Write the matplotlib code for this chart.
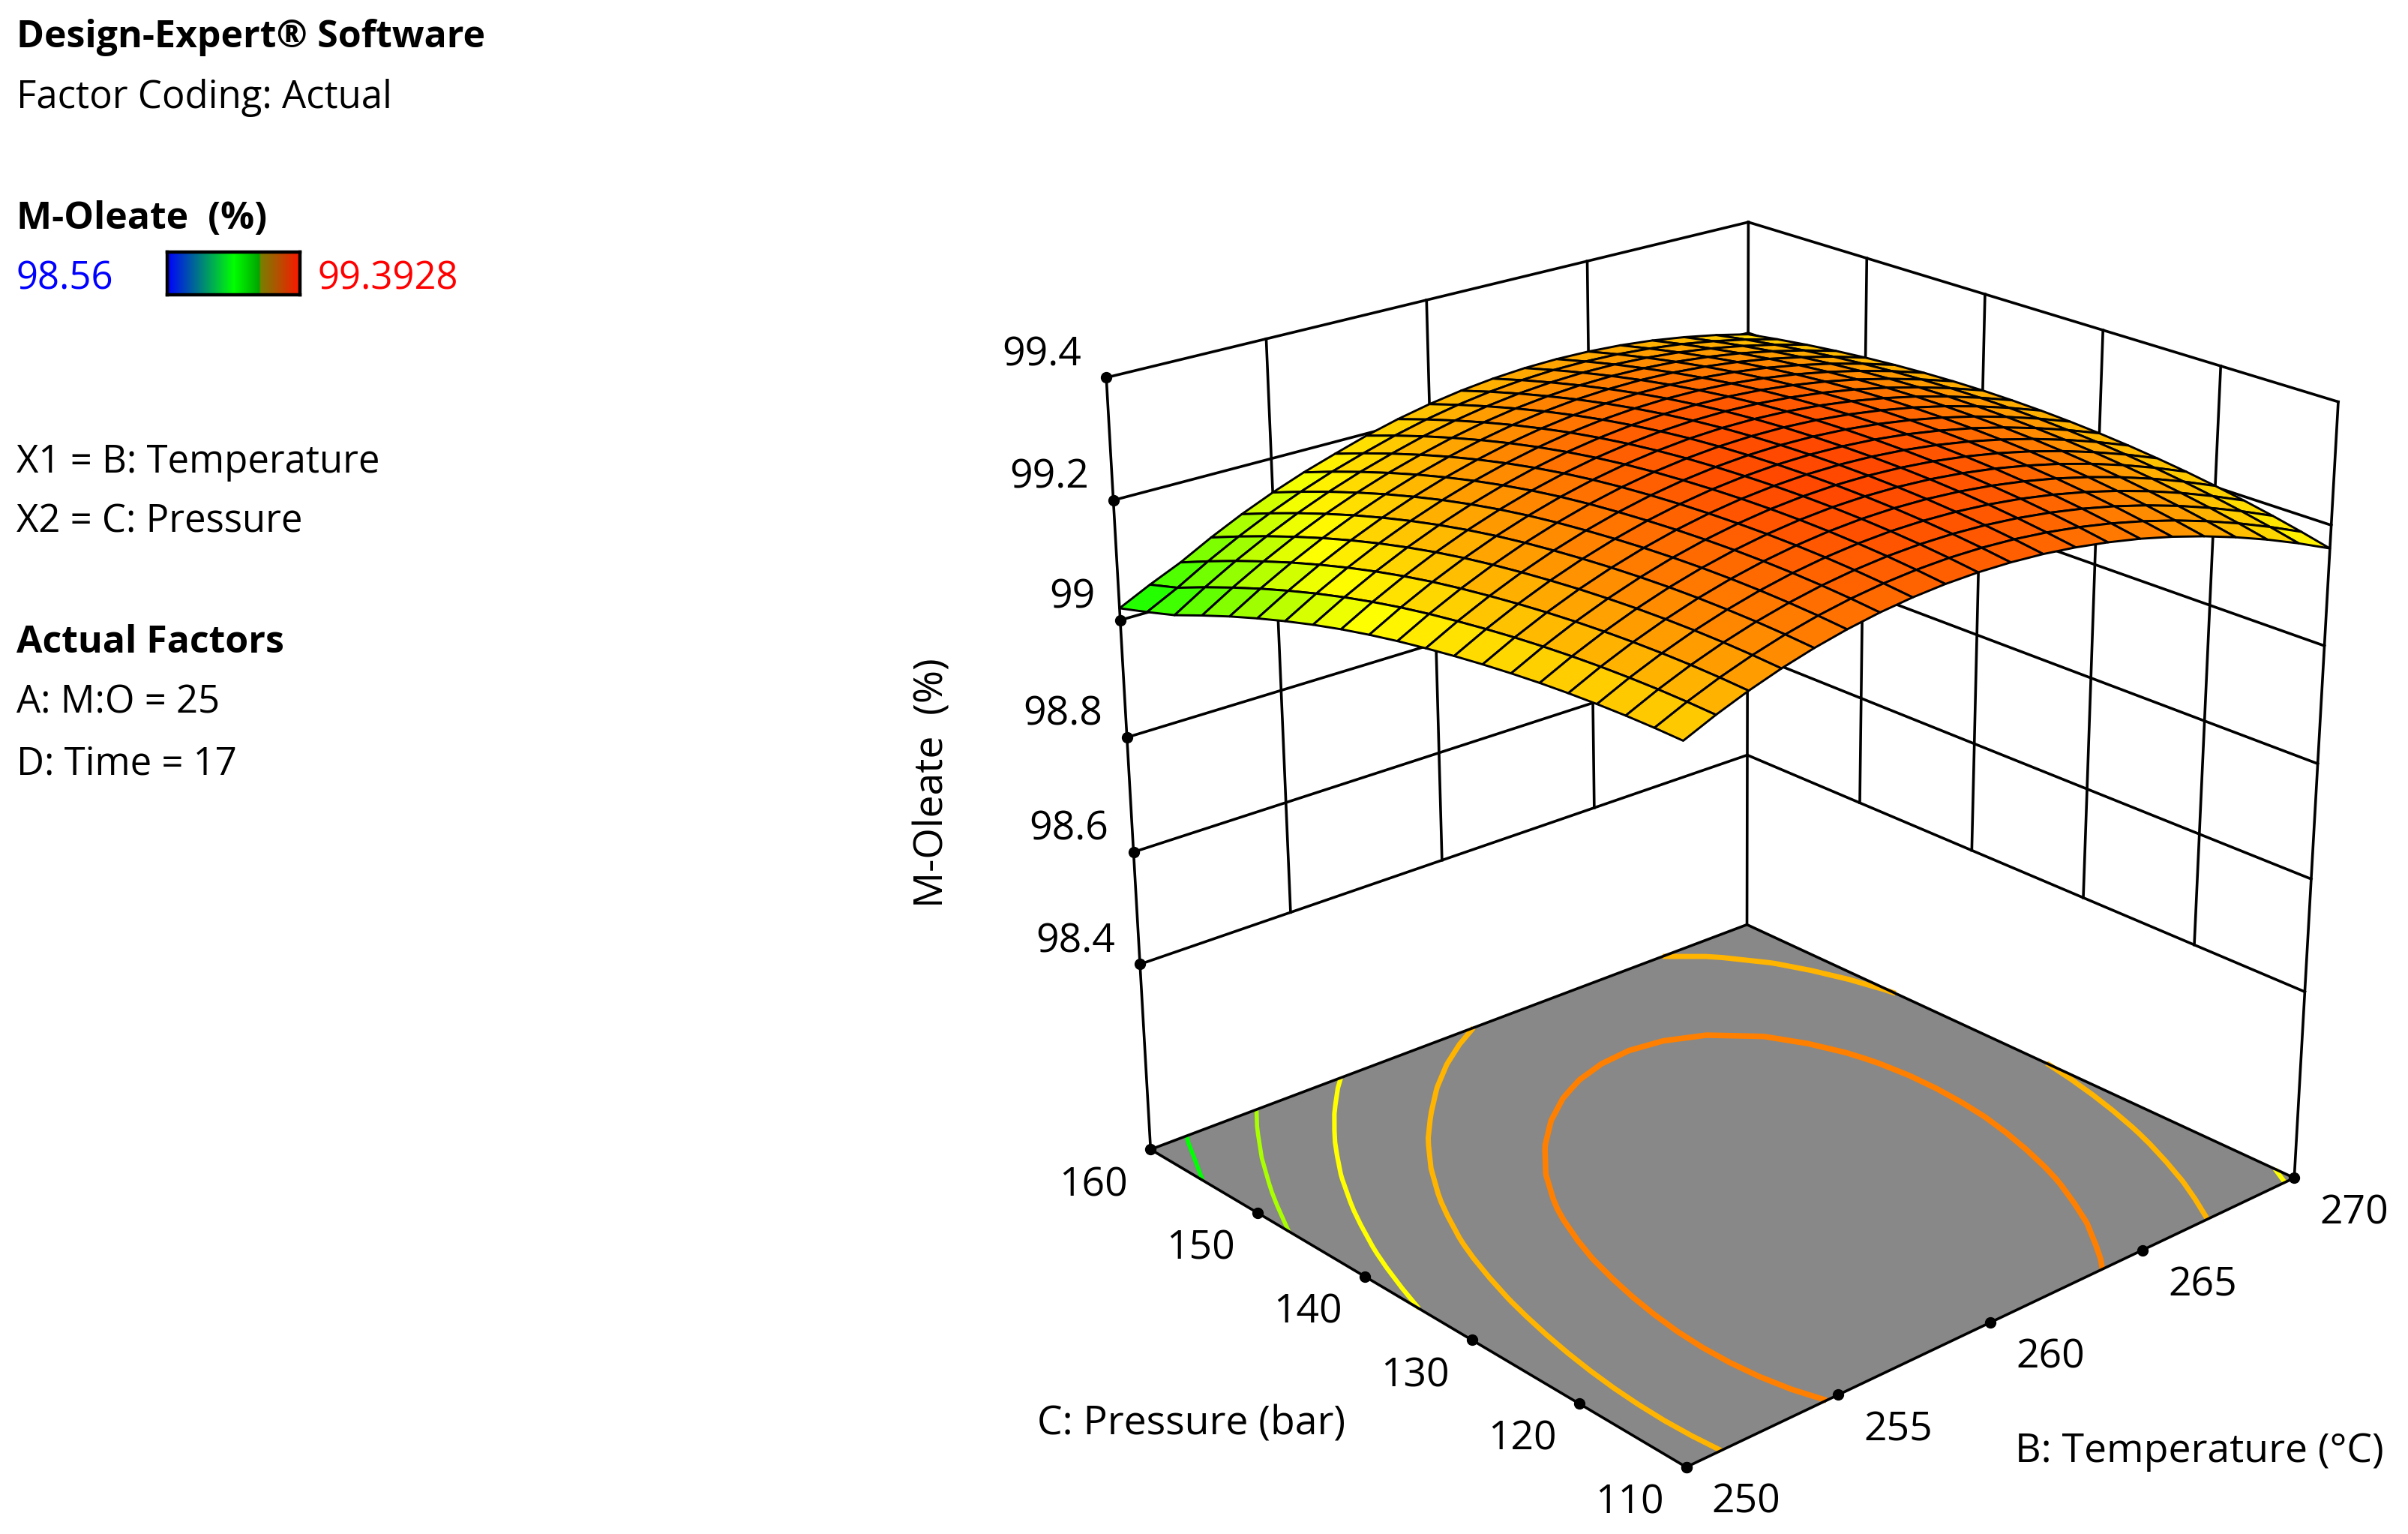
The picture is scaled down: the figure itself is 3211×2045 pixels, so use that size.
import numpy as np
import matplotlib
matplotlib.use("Agg")
import matplotlib.pyplot as plt
from matplotlib.colors import LinearSegmentedColormap, Normalize
from mpl_toolkits.mplot3d import proj3d

# surface height, in 1/10000 above 99 %
# rows: pressure 110..160 bar, columns: temperature 250..270 C
temperature = np.linspace(250, 270, 21)
pressure = np.linspace(110, 160, 21)
z_rows = [
    [2053, 2272, 2466, 2635, 2778, 2896, 2989, 3056, 3098, 3114, 3105, 3071, 3011, 2925, 2815, 2679, 2517, 2330, 2118, 1881, 1618],
    [2062, 2286, 2486, 2660, 2809, 2932, 3030, 3102, 3149, 3171, 3167, 3138, 3083, 3003, 2898, 2767, 2611, 2430, 2223, 1990, 1733],
    [2061, 2291, 2496, 2675, 2829, 2957, 3061, 3138, 3191, 3218, 3219, 3195, 3146, 3071, 2971, 2846, 2695, 2519, 2317, 2090, 1838],
    [2050, 2285, 2495, 2680, 2839, 2973, 3082, 3165, 3222, 3255, 3261, 3243, 3199, 3130, 3035, 2915, 2769, 2598, 2402, 2180, 1933],
    [2029, 2270, 2485, 2675, 2840, 2979, 3093, 3181, 3244, 3282, 3294, 3281, 3242, 3178, 3088, 2974, 2833, 2668, 2477, 2260, 2018],
    [1999, 2245, 2465, 2661, 2831, 2975, 3094, 3188, 3256, 3299, 3316, 3308, 3275, 3216, 3132, 3022, 2888, 2727, 2541, 2330, 2094],
    [1958, 2210, 2436, 2636, 2811, 2961, 3085, 3184, 3258, 3306, 3329, 3326, 3298, 3245, 3166, 3062, 2932, 2777, 2596, 2391, 2159],
    [1908, 2165, 2396, 2602, 2782, 2937, 3067, 3171, 3250, 3303, 3331, 3334, 3311, 3263, 3190, 3091, 2966, 2817, 2641, 2441, 2215],
    [1848, 2109, 2346, 2557, 2743, 2903, 3038, 3148, 3232, 3290, 3324, 3332, 3314, 3272, 3204, 3109, 2991, 2847, 2676, 2481, 2261],
    [1778, 2044, 2286, 2503, 2694, 2859, 3000, 3115, 3204, 3268, 3307, 3320, 3308, 3271, 3208, 3119, 3006, 2867, 2702, 2512, 2297],
    [1698, 1970, 2217, 2439, 2636, 2806, 2952, 3072, 3167, 3236, 3280, 3298, 3292, 3260, 3202, 3118, 3011, 2877, 2717, 2532, 2323],
    [1604, 1882, 2135, 2362, 2564, 2739, 2891, 3016, 3116, 3190, 3241, 3265, 3263, 3237, 3184, 3106, 3004, 2876, 2721, 2542, 2338],
    [1496, 1778, 2036, 2269, 2476, 2657, 2814, 2944, 3050, 3130, 3186, 3216, 3221, 3200, 3153, 3081, 2985, 2862, 2714, 2541, 2343],
    [1371, 1659, 1922, 2160, 2372, 2558, 2720, 2857, 2969, 3055, 3117, 3153, 3163, 3150, 3110, 3043, 2953, 2837, 2694, 2527, 2336],
    [1230, 1524, 1792, 2036, 2253, 2445, 2612, 2754, 2872, 2966, 3034, 3076, 3094, 3086, 3053, 2993, 2910, 2800, 2664, 2504, 2318],
    [1074, 1372, 1646, 1895, 2118, 2314, 2487, 2634, 2760, 2859, 2935, 2985, 3009, 3008, 2981, 2929, 2853, 2749, 2621, 2467, 2289],
    [902, 1206, 1485, 1739, 1967, 2169, 2347, 2499, 2631, 2739, 2822, 2879, 2910, 2917, 2897, 2852, 2783, 2688, 2566, 2421, 2249],
    [712, 1022, 1306, 1566, 1799, 2006, 2190, 2347, 2487, 2603, 2693, 2757, 2797, 2811, 2799, 2763, 2700, 2614, 2499, 2361, 2198],
    [509, 823, 1113, 1377, 1616, 1829, 2017, 2180, 2329, 2452, 2550, 2623, 2670, 2693, 2690, 2660, 2606, 2527, 2421, 2291, 2136],
    [350, 608, 903, 1173, 1417, 1635, 1829, 1997, 2154, 2286, 2393, 2474, 2530, 2561, 2565, 2545, 2499, 2429, 2331, 2210, 2062],
    [200, 450, 678, 953, 1203, 1426, 1625, 1798, 1964, 2105, 2220, 2310, 2375, 2415, 2428, 2416, 2380, 2318, 2229, 2116, 1977],
]
z_surface = 99 + np.array(z_rows) / 10000

z_ticks = [98.4, 98.6, 98.8, 99.0, 99.2, 99.4]
z_labels = ["98.4", "98.6", "98.8", "99", "99.2", "99.4"]
pressure_ticks = [110, 120, 130, 140, 150, 160]
temperature_ticks = [250, 255, 260, 265, 270]
contour_levels = [99.05, 99.11, 99.17, 99.23, 99.285]
contour_colors = ["#00ff00", "#a8ff00", "#ffff00", "#ffb400", "#ff8000"]
z_floor = 98.06

W, H = 3211, 2045
FONT = "Open Sans"

fig = plt.figure(figsize=(W/100, H/100), dpi=100)
ax = fig.add_axes([0, (H-W)/2/H, 1, W/H], projection="3d")
ax.set_axis_off()
ax.patch.set_alpha(0)
ax.set_proj_type("ortho")
ax.set_xlim(250, 270)
ax.set_ylim(110, 160)
ax.set_zlim(z_floor, 99.4)
ax.apply_aspect()

# camera of the original plot, centred data -> figure pixels
camera = np.array([[56.1362394, -23.2169388, -12.9742435, 2293.3853546],
                   [-8.3746671, -9.7423054, -84.0061967, 843.7412138],
                   [0.0060558, 0.0064629, -0.0056342, 1.0]])
centre = np.array([[1, 0, 0, -260], [0, 1/2.5, 0, -135/2.5], [0, 0, 10, -990], [0, 0, 0, 1.0]])
flip = np.array([[1, 0, 0], [0, -1, H], [0, 0, 1.0]])
view = ax.transData.inverted().get_matrix() @ flip @ camera @ centre
depth = np.array([1/20, 1/50, -0.3, -250/20 - 110/50 + 0.3*98.4])
M = np.vstack([view[0], view[1], depth, view[2]])
ax.get_proj = lambda: M
ax.M = M


# the original spaces its ticks evenly on screen, so undo the foreshortening
def scale_b(v):
    s = (np.asarray(v, float) - 250) / 20
    return 250 + 20*s / (s + (1-s)*1.1289)


def scale_c(v):
    s = (np.asarray(v, float) - 110) / 50
    return 110 + 50*s / (s + (1-s)*1.1382)


BB, CC = np.meshgrid(scale_b(temperature), scale_c(pressure))

cmap = LinearSegmentedColormap.from_list("surface", [
    (0, (0, 0, 1)),
    ((99.02-98.56)/0.84, (0, 1, 0)),
    ((99.17-98.56)/0.84, (1, 1, 0)),
    (1, (1, 0, 0))])
norm = Normalize(98.56, 99.40)
cell = (z_surface[:-1, :-1] + z_surface[1:, :-1] + z_surface[:-1, 1:] + z_surface[1:, 1:]) / 4

ax.computed_zorder = False

# floor and contours
floor_b, floor_c = np.meshgrid([250, 270], [110, 160])
ax.plot_surface(floor_b, floor_c, np.full((2, 2), z_floor), color="#888888",
                shade=False, zorder=1, linewidth=0)
ax.contour(BB, CC, z_surface, levels=contour_levels, zdir="z", offset=z_floor,
           colors=contour_colors, linewidths=[4, 4, 4.4, 5, 5.4], zorder=2)

# back walls
lw = 2.6
for z in z_ticks:
    ax.plot([250, 270], [160, 160], [z, z], color="black", lw=lw, zorder=3)
    ax.plot([270, 270], [160, 110], [z, z], color="black", lw=lw, zorder=3)
for t in temperature_ticks[1:-1]:
    ax.plot([scale_b(t)]*2, [160, 160], [98.4, 99.4], color="black", lw=lw, zorder=3)
for p in pressure_ticks[1:-1]:
    ax.plot([270, 270], [scale_c(p)]*2, [98.4, 99.4], color="black", lw=lw, zorder=3)
for t, p in [(250, 160), (270, 160), (270, 110)]:
    ax.plot([t, t], [p, p], [z_floor, 99.4], color="black", lw=lw, zorder=3)
ax.plot([250, 250, 270, 270, 250], [160, 110, 110, 160, 160], [z_floor]*5,
        color="black", lw=lw, zorder=3)

ax.plot_surface(BB, CC, z_surface, facecolors=cmap(norm(cell)), rstride=1, cstride=1,
                shade=False, edgecolor="black", linewidth=2.1, zorder=4)

# tick dots
ms = 10
ax.plot([250]*6, [160]*6, z_ticks, "o", color="black", ms=ms, zorder=5)
ax.plot([250]*6, scale_c(pressure_ticks), [z_floor]*6, "o", color="black", ms=ms, zorder=5)
ax.plot(scale_b(temperature_ticks), [110]*5, [z_floor]*5, "o", color="black", ms=ms, zorder=5)


def to_px(b, c, z):
    xs, ys, _ = proj3d.proj_transform(b, c, z, M)
    return ax.transData.transform((xs, ys))


def label(s, x, y, **kw):
    fig.text(x/W, 1-y/H, s, family=FONT, va="center", **kw)


fs = 36.6
fs_bold = 36
fs_axis = 38.5
for z, s in zip(z_ticks, z_labels):
    u, v = to_px(250, 160, z)
    label(s, u-33, H-v-30, fontsize=fs_axis, ha="right")
for p in pressure_ticks:
    u, v = to_px(250, scale_c(p), z_floor)
    label(str(p), u-76, H-v+48, fontsize=fs_axis, ha="center")
for t in temperature_ticks:
    u, v = to_px(scale_b(t), 110, z_floor)
    label(str(t), u+80, H-v+47, fontsize=fs_axis, ha="center")
label("C: Pressure (bar)", 1589, 1899, fontsize=fs_axis, ha="center")
label("B: Temperature (°C)", 2933, 1935, fontsize=fs_axis, ha="center")
label("M-Oleate  (%)", 1244, 1044, fontsize=fs_axis, ha="center", rotation=90)

# legend block
x0 = 22
label("Design-Expert® Software", x0, 50, fontsize=fs_bold, weight="bold")
label("Factor Coding: Actual", x0, 131, fontsize=fs)
label("M-Oleate  (%)", x0, 292, fontsize=fs_bold, weight="bold")
label("98.56", x0, 372, fontsize=fs, color="#0000ff")
label("99.3928", 424, 372, fontsize=fs, color="#ff0000")
label("X1 = B: Temperature", x0, 616, fontsize=fs)
label("X2 = C: Pressure", x0, 696, fontsize=fs)
label("Actual Factors", x0, 857, fontsize=fs_bold, weight="bold")
label("A: M:O = 25", x0, 937, fontsize=fs)
label("D: Time = 17", x0, 1019, fontsize=fs)

cax = fig.add_axes([223/W, 1-393/H, 177/W, 57/H])
bar = LinearSegmentedColormap.from_list("bar", [
    (0, (0, 0, 1)), (0.5, (0, 1, 0)), (0.69, (0, 0.65, 0)),
    (0.70, (0.47, 0.5, 0)), (1, (1, 0.08, 0))])
cax.imshow(np.linspace(0, 1, 256)[None, :], aspect="auto", cmap=bar)
cax.set_xticks([])
cax.set_yticks([])
for sp in cax.spines.values():
    sp.set_linewidth(3.2)

fig.savefig("out.png", dpi=100)
